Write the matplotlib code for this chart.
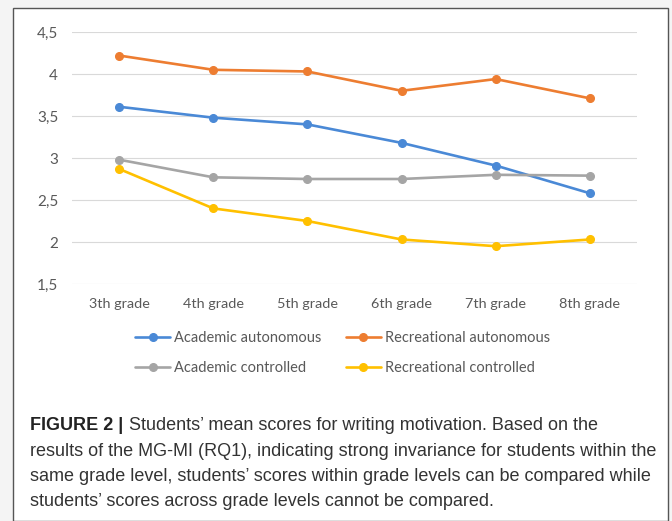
import matplotlib
matplotlib.use('Agg')
import matplotlib.pyplot as plt
import matplotlib.patches as patches

# Data
grades = ['3th grade', '4th grade', '5th grade', '6th grade', '7th grade', '8th grade']
academic_autonomous = [3.61, 3.48, 3.40, 3.18, 2.91, 2.58]
recreational_autonomous = [4.22, 4.05, 4.03, 3.80, 3.94, 3.71]
academic_controlled = [2.98, 2.77, 2.75, 2.75, 2.80, 2.79]
recreational_controlled = [2.87, 2.40, 2.25, 2.03, 1.95, 2.03]
y_ticks = [1.5, 2, 2.5, 3, 3.5, 4, 4.5]
y_tick_labels = ['1,5', '2', '2,5', '3', '3,5', '4', '4,5']

W, H = 672, 521
fig = plt.figure(figsize=(W / 100, H / 100), dpi=100, facecolor='#f4f4f4')

# white panel with border
panel = patches.Rectangle((13 / W, 0), 655 / W, 1 - 8 / H, transform=fig.transFigure,
                          facecolor='white', edgecolor='#555555', linewidth=1.0, zorder=-5)
fig.patches.append(panel)

ax = fig.add_axes([72 / W, 1 - 284 / H, 565 / W, 252 / H])
ax.set_facecolor('none')
x = list(range(len(grades)))

series = [
    ('Academic autonomous', academic_autonomous, '#4a89d6'),
    ('Recreational autonomous', recreational_autonomous, '#ed7d31'),
    ('Academic controlled', academic_controlled, '#a5a5a5'),
    ('Recreational controlled', recreational_controlled, '#ffc000'),
]
handles = {}
for name, vals, col in series:
    ln, = ax.plot(x, vals, color=col, linewidth=1.9, marker='o', markersize=5.5,
                  label=name, solid_capstyle='round')
    handles[name] = ln

ax.set_xlim(-0.5, len(grades) - 0.5)
ax.set_ylim(1.5, 4.5)
ax.set_yticks(y_ticks)
ax.set_yticklabels(y_tick_labels)
ax.set_xticks(x)
ax.set_xticklabels(grades)
ax.grid(axis='y', color='#d9d9d9', linewidth=0.8)
ax.set_axisbelow(True)
for s in ax.spines.values():
    s.set_visible(False)
ax.tick_params(axis='x', length=0, labelsize=10.4, labelcolor='#595959', pad=10)
ax.tick_params(axis='y', length=0, labelsize=11, labelcolor='#595959', pad=10)
for lab in ax.get_xticklabels() + ax.get_yticklabels():
    lab.set_family('Lato')

order = ['Academic autonomous', 'Academic controlled', 'Recreational autonomous', 'Recreational controlled']
leg = fig.legend([handles[n] for n in order], order, ncol=2, loc='upper left',
                 bbox_to_anchor=(122 / W, 1 - 318 / H), frameon=False,
                 prop={'family': 'Lato', 'size': 10.5}, handlelength=2.4, handletextpad=0.25,
                 columnspacing=1.7, labelspacing=1.1, labelcolor='#595959')

# caption
cap_x = 30 / W
fs = 13.0
fig.text(cap_x, 1 - 425 / H, 'FIGURE 2 |', fontsize=fs, fontweight='bold', color='#222222',
         family='Liberation Sans', va='center')
fig.text(cap_x + 99 / W, 1 - 425 / H, 'Students\u2019 mean scores for writing motivation. Based on the',
         fontsize=fs, color='#333333', family='Liberation Sans', va='center')
lines = [
    'results of the MG-MI (RQ1), indicating strong invariance for students within the',
    'same grade level, students\u2019 scores within grade levels can be compared while',
    'students\u2019 scores across grade levels cannot be compared.',
]
for i, t in enumerate(lines):
    fig.text(cap_x, 1 - (451 + 25.5 * i) / H, t, fontsize=fs, color='#333333',
             family='Liberation Sans', va='center')

fig.savefig('out.png', dpi=100, facecolor=fig.get_facecolor())
